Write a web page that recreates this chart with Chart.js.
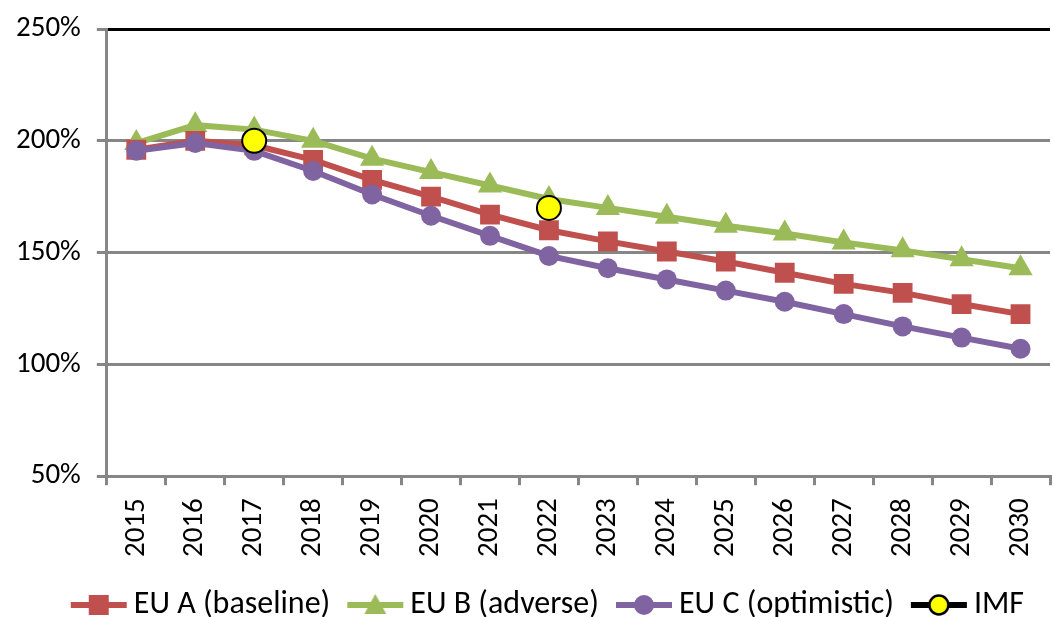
<!DOCTYPE html>
<html>
<head>
<meta charset="utf-8">
<script src="https://cdn.jsdelivr.net/npm/chart.js@4"></script>
<style>
  body { margin: 0; background: #fff; }
  #wrap { width: 1053px; height: 617px; }
</style>
</head>
<body>
<div id="wrap"><canvas id="myChart"></canvas></div>
<script>
const years = ["2015", "2016", "2017", "2018", "2019", "2020", "2021", "2022",
  "2023", "2024", "2025", "2026", "2027", "2028", "2029", "2030"];
const euA = [196, 200, 198, 191.5, 182.5, 175, 167, 160, 155, 150.5, 146, 141, 136, 132, 127, 122.5];
const euB = [199, 207, 205, 200, 192, 186, 180, 174, 170, 166, 162, 158.5, 154.5, 151, 147, 143];
const euC = [195.5, 199, 195.5, 186.5, 176, 166.5, 157.5, 148.5, 143, 138, 133, 128, 122.5, 117, 112, 107];
const imf = [null, null, 200, null, null, null, null, 170, null, null, null, null, null, null, null, null];
const yTicks = [50, 100, 150, 200, 250];

const FONT = "Carlito, 'Liberation Sans Narrow', 'Open Sans', sans-serif";
const GRAY = "#868686";

// category axis that doesn't reserve room for the rotated end labels
class TightCategory extends Chart.CategoryScale {
  _calculatePadding() {
    this.paddingLeft = 0;
    this.paddingRight = 0;
    this.paddingTop = 0;
    this.paddingBottom = 0;
  }
}
TightCategory.id = "tightCategory";
TightCategory.defaults = Chart.CategoryScale.defaults;
Chart.register(TightCategory);

// little legend icons: line with the marker in the middle
function legendIcon(lineColor, lw, draw) {
  const c = document.createElement("canvas");
  c.width = 60;
  c.height = 26;
  const g = c.getContext("2d");
  g.strokeStyle = lineColor;
  g.lineWidth = lw;
  g.beginPath();
  g.moveTo(2, 13);
  g.lineTo(58, 13);
  g.stroke();
  draw(g);
  return c;
}
const iconA = legendIcon("#C0504D", 6, g => { g.fillStyle = "#C0504D"; g.fillRect(20, 3, 20, 20); });
const iconB = legendIcon("#9BBB59", 6, g => {
  g.fillStyle = "#9BBB59";
  g.beginPath(); g.moveTo(30, 2); g.lineTo(41, 22); g.lineTo(19, 22); g.closePath(); g.fill();
});
const iconC = legendIcon("#8064A2", 6, g => {
  g.fillStyle = "#8064A2";
  g.beginPath(); g.arc(30, 13, 10, 0, Math.PI * 2); g.fill();
});
const iconI = legendIcon("#000000", 6, g => {
  g.fillStyle = "#FFFF00"; g.strokeStyle = "#000"; g.lineWidth = 2.5;
  g.beginPath(); g.arc(30, 13, 9.5, 0, Math.PI * 2); g.fill(); g.stroke();
});

const ctx = document.getElementById("myChart").getContext("2d");
const myChart = new Chart(ctx, {
  type: "line",
  data: {
    labels: years,
    datasets: [
      {
        label: "EU A (baseline)",
        data: euA,
        borderColor: "#C0504D",
        backgroundColor: "#C0504D",
        borderWidth: 6,
        pointStyle: "rect",
        pointRadius: 14,
        pointBorderWidth: 0,
        legendIcon: iconA,
        order: 2,
      },
      {
        label: "EU B (adverse)",
        data: euB,
        borderColor: "#9BBB59",
        backgroundColor: "#9BBB59",
        borderWidth: 6,
        pointStyle: "triangle",
        pointRadius: 14,
        pointBorderWidth: 0,
        legendIcon: iconB,
        order: 3,
      },
      {
        label: "EU C (optimistic)",
        data: euC,
        borderColor: "#8064A2",
        backgroundColor: "#8064A2",
        borderWidth: 6,
        pointStyle: "circle",
        pointRadius: 10,
        pointBorderWidth: 0,
        legendIcon: iconC,
        order: 1,
      },
      {
        label: "IMF",
        data: imf,
        borderColor: "#000000",
        backgroundColor: "#FFFF00",
        borderWidth: 4,
        pointStyle: "circle",
        pointRadius: 12,
        pointBorderColor: "#000000",
        pointBorderWidth: 2,
        spanGaps: false,
        legendIcon: iconI,
        order: 0,
      },
    ],
  },
  options: {
    responsive: true,
    maintainAspectRatio: false,
    animation: false,
    layout: { autoPadding: false, padding: { top: 29, right: 3, left: 0, bottom: -14 } },
    plugins: {
      tooltip: { enabled: false },
      legend: {
        position: "bottom",
        align: "end",
        labels: {
          usePointStyle: true,
          pointStyleWidth: 38,
          padding: 26,
          color: "#000",
          font: { family: FONT, size: 32 },
          generateLabels: chart => chart.data.datasets.map((ds, i) => ({
            text: ds.label,
            pointStyle: ds.legendIcon,
            fillStyle: ds.backgroundColor,
            strokeStyle: ds.borderColor,
            lineWidth: 0,
            hidden: false,
            datasetIndex: i,
          })),
        },
      },
    },
    scales: {
      x: {
        type: "tightCategory",
        offset: true,
        afterFit: axis => {
          axis.height -= 7;
        },
        grid: {
          offset: true,
          drawOnChartArea: false,
          drawTicks: true,
          tickLength: 9,
          color: GRAY,
          lineWidth: 3,
        },
        border: { color: GRAY, width: 3 },
        ticks: {
          minRotation: 90,
          maxRotation: 90,
          color: "#000",
          padding: 13,
          font: { family: FONT, size: 29 },
        },
      },
      y: {
        min: 50,
        max: 250,
        afterBuildTicks: axis => { axis.ticks = yTicks.map(v => ({ value: v })); },
        afterFit: axis => {
          axis.paddingTop = 0;
          axis.paddingBottom = 0;
        },
        grid: {
          color: c => (c.tick && c.tick.value === 250 ? "#000" : GRAY),
          tickColor: GRAY,
          lineWidth: 3,
          tickLength: 10,
        },
        border: { color: GRAY, width: 3 },
        ticks: {
          color: "#000",
          padding: 16,
          font: { family: FONT, size: 29 },
          callback: v => v + "%",
        },
      },
    },
  },
});
</script>
</body>
</html>
